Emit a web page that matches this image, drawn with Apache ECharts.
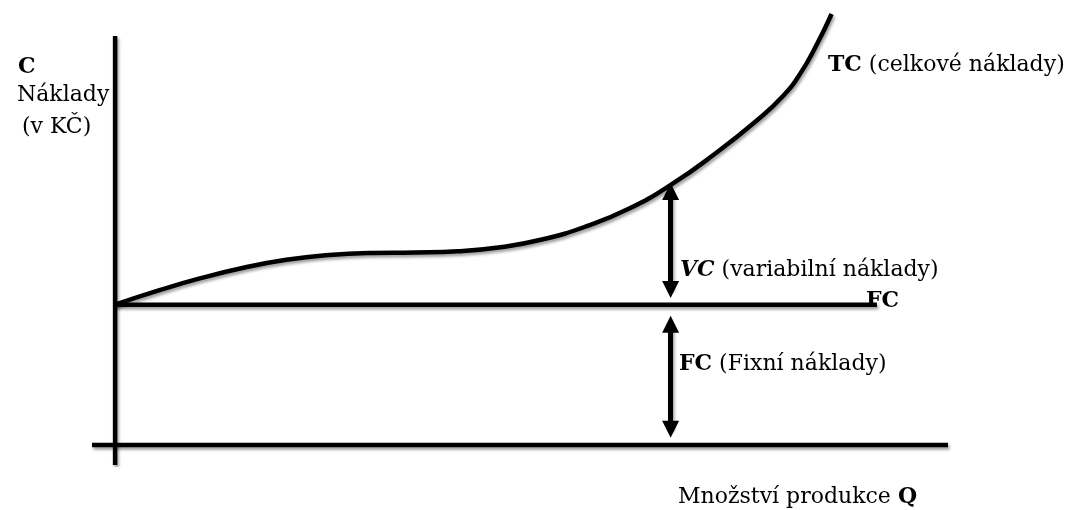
<!DOCTYPE html>
<html>
<head>
<meta charset="utf-8">
<script src="https://cdn.jsdelivr.net/npm/echarts@6/dist/echarts.min.js"></script>
<style>html,body{margin:0;padding:0;background:#fff}#c{width:1072px;height:510px}</style>
</head>
<body>
<div id="c"></div>
<script>
// ---- data ----
const qRange = [-2.7, 97.3];          // horizontal extent (Q)
const cRange = [-5, 108];             // vertical extent (C)
const yAxisTop = 102;                 // top of drawn C axis
const fcLevel = 35;                   // fixed costs
const fcEndQ = 89;                    // end of FC line
const tcQ = [0, 5, 10, 15, 20, 25, 30, 35, 40, 45, 50, 55, 60, 65, 70, 75, 78, 80, 82, 83.7];
const tcC = [35, 38.5, 41.6, 44.2, 46.2, 47.4, 47.9, 48.0, 48.3, 49.3, 51.3, 54.5, 58.9, 65.0, 72.5, 81.0, 87.0, 92.5, 100.0, 107.5];
const arrowQ = 64.9;                  // Q where VC / FC arrows are drawn
const vcArrow = [63.2, 38.8];         // from TC down to FC (arrow-head centres)
const fcArrow = [30.1, 3.9];          // from FC down to Q axis (arrow-head centres)

const FONT = 'DejaVu Serif';
const FS = 22;

const shadow = {shadowColor: 'rgba(0,0,0,0.38)', shadowBlur: 3, shadowOffsetX: 1.5, shadowOffsetY: 2.5};
const lineStyle = Object.assign({color: '#000', width: 4.5}, shadow);

function seg(a, b) { return {type: 'line', data: [a, b], symbol: 'none', lineStyle: lineStyle, silent: true, animation: false}; }

const chart = echarts.init(document.getElementById('c'), null, {renderer: 'canvas'});

function txt(x, y, text, rich) {
  const r = {};
  for (const k in rich) r[k] = Object.assign({fontFamily: FONT, fontSize: FS, fill: '#000'}, rich[k]);
  return {type: 'text', x: x, y: y, style: {text: text, fontFamily: FONT, fontSize: FS, fill: '#000', verticalAlign: 'middle', rich: r}, silent: true};
}

const tri = 'path://M10,0 L20,22 L0,22 Z';

chart.setOption({
  animation: false,
  grid: {left: 92, right: 124, top: 12, bottom: 45},
  xAxis: {type: 'value', min: qRange[0], max: qRange[1], show: false},
  yAxis: {type: 'value', min: cRange[0], max: cRange[1], show: false},
  series: [
    seg([qRange[0], 0], [qRange[1], 0]),
    seg([0, cRange[0]], [0, yAxisTop]),
    seg([0, fcLevel], [fcEndQ, fcLevel]),
    {type: 'line', data: tcQ.map((q, i) => [q, tcC[i]]), symbol: 'none', smooth: 0.5,
     lineStyle: lineStyle, silent: true},
    {type: 'lines', coordinateSystem: 'cartesian2d', symbol: [tri, tri], symbolSize: 17,
     lineStyle: Object.assign({}, lineStyle, {width: 5, opacity: 1, curveness: 0}), silent: true,
     data: [{coords: [[arrowQ, vcArrow[0]], [arrowQ, vcArrow[1]]]},
            {coords: [[arrowQ, fcArrow[0]], [arrowQ, fcArrow[1]]]}]}
  ],
  graphic: [
    txt(18, 67, '{b|C}', {b: {fontWeight: 'bold'}}),
    txt(17, 95, 'Náklady', {}),
    txt(22, 127, '(v KČ)', {}),
    txt(828, 65, '{b|TC} (celkové náklady)', {b: {fontWeight: 'bold'}}),
    txt(680, 270, '{bi|VC} (variabilní náklady)', {bi: {fontWeight: 'bold', fontStyle: 'italic'}}),
    txt(866, 301, '{b|FC}', {b: {fontWeight: 'bold'}}),
    txt(679, 364, '{b|FC} (Fixní náklady)', {b: {fontWeight: 'bold'}}),
    txt(678, 497, 'Množství produkce {b|Q}', {b: {fontWeight: 'bold'}})
  ]
});
</script>
</body>
</html>
